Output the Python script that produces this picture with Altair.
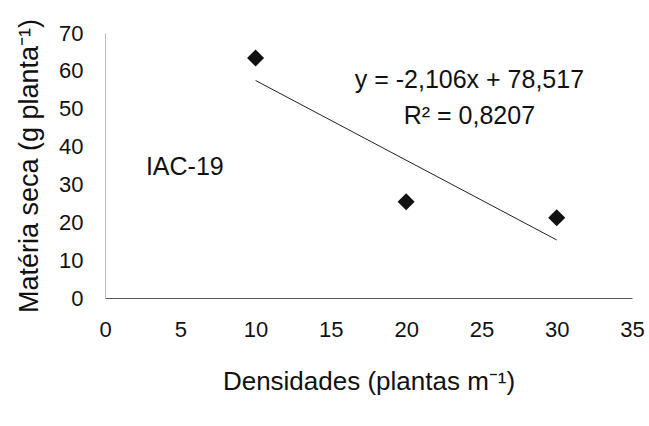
import altair as alt
import pandas as pd

dens = [10, 20, 30]
materia = [63.4, 25.4, 21.2]
trend_x = [10, 30]
trend_y = [57.457, 15.337]

labels_txt = ["y = -2,106x + 78,517", "R² = 0,8207", "IAC-19"]
labels_x = [24.2, 24.2, 5.3]
labels_y = [57.5, 48.2, 34.6]

x_ticks = [0, 5, 10, 15, 20, 25, 30, 35]
y_ticks = [0, 10, 20, 30, 40, 50, 60, 70]

FONT = "Liberation Sans"

pts = pd.DataFrame({"x": dens, "y": materia})
trend = pd.DataFrame({"x": trend_x, "y": trend_y})
ann = pd.DataFrame({"t": labels_txt, "x": labels_x, "y": labels_y})

xs = alt.Scale(domain=[0, 35], nice=False)
ys = alt.Scale(domain=[0, 70], nice=False)

xax = alt.Axis(values=x_ticks, grid=False, ticks=False, labelFlush=False,
               domainColor="#555", domainWidth=1.2, labelOverlap=False,
               labelFont=FONT, labelFontSize=22, labelColor="#111", labelPadding=21,
               title="Densidades (plantas m⁻¹)", titleFont=FONT, titleFontSize=26,
               titleFontWeight="normal", titleColor="#111", titlePadding=28)
yax = alt.Axis(values=y_ticks, grid=False, ticks=False, labelFlush=False,
               domainColor="#bbb", domainWidth=1, labelOverlap=False,
               labelFont=FONT, labelFontSize=22, labelColor="#111", labelPadding=22,
               title="Matéria seca  (g planta⁻¹)", titleFont=FONT, titleFontSize=27,
               titleFontWeight="normal", titleColor="#111", titlePadding=15)

line = alt.Chart(trend).mark_line(color="#222", strokeWidth=1).encode(
    x=alt.X("x:Q", scale=xs, axis=xax),
    y=alt.Y("y:Q", scale=ys, axis=yax),
)
points = alt.Chart(pts).mark_point(shape="diamond", filled=True, color="#111",
                                   size=290, opacity=1).encode(
    x=alt.X("x:Q", scale=xs, axis=xax),
    y=alt.Y("y:Q", scale=ys, axis=yax),
)
text = alt.Chart(ann).mark_text(font=FONT, fontSize=25, color="#111",
                                align="center", baseline="middle").encode(
    x=alt.X("x:Q", scale=xs, axis=xax),
    y=alt.Y("y:Q", scale=ys, axis=yax),
    text="t:N",
)

chart = (line + points + text).properties(
    width=527, height=265,
    background="white",
    autosize=alt.AutoSizeParams(type="none"),
    padding={"left": 105, "top": 33, "right": 17, "bottom": 128},
).configure_view(stroke=None).configure_axis(
    labelFont=FONT, labelOverlap=False, labelFlush=False, labelColor="#111",
    grid=False, ticks=False,
)

chart.save("out.html", embed_options={"renderer": "svg", "actions": False})
